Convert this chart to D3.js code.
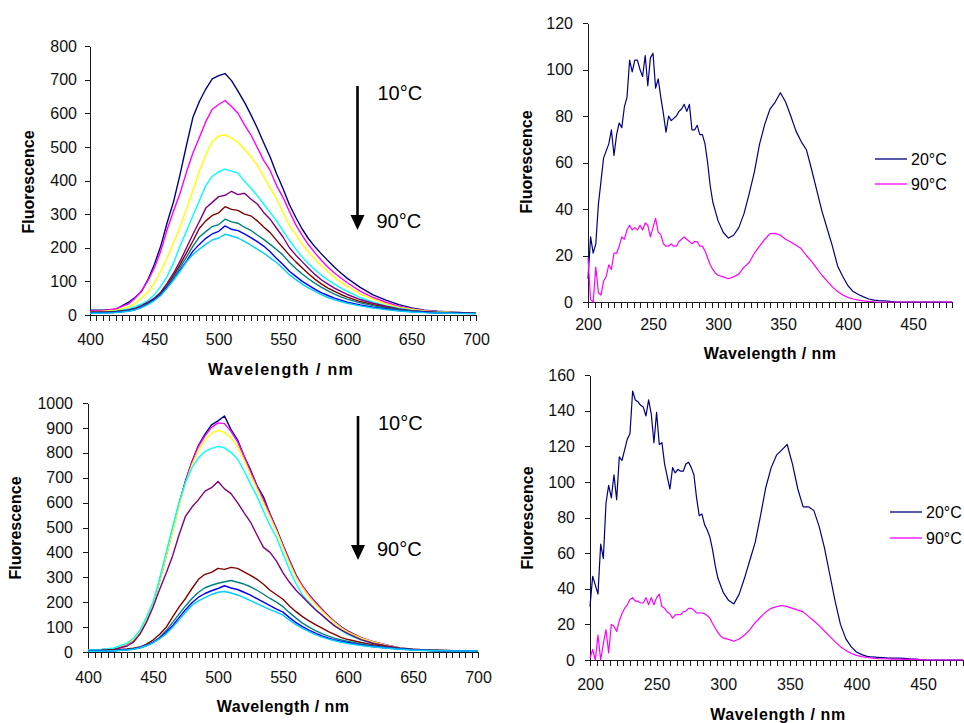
<!DOCTYPE html>
<html>
<head>
<meta charset="utf-8">
<script src="https://cdn.jsdelivr.net/npm/d3@7"></script>
<style>
  body { margin: 0; background: #fff; }
  svg { display: block; font-family: Arial, "Liberation Sans", sans-serif; }
</style>
</head>
<body>
<svg id="chart" width="964" height="723"></svg>
<script>
// ---- emission spectra (left panels), 10°C .. 90°C ----
const emWave = [400, 410, 420, 430, 435, 440, 445, 450, 455, 460, 465, 470, 475, 480, 485, 490, 495, 500, 505, 510,
  515, 520, 525, 530, 535, 540, 545, 550, 555, 560, 565, 570, 575, 580, 585, 590, 595, 600,
  610, 620, 630, 640, 650, 660, 670, 680, 690, 700]
const tempLabels = ['10°C', '20°C', '30°C', '40°C', '50°C', '60°C', '70°C', '80°C', '90°C']
const tempColors = ['#000080', '#FF00FF', '#FFFF00', '#00FFFF', '#800080', '#800000', '#008080', '#0000FF', '#00CCFF']

// top-left panel
const topEm10 = [14, 14, 17, 38, 52, 70, 105, 150, 205, 275, 338, 418, 505, 588, 635, 672, 702, 712, 718, 697,
  666, 633, 596, 556, 512, 470, 420, 376, 328, 290, 255, 226, 202, 181, 161, 142, 125, 109,
  82, 60, 44, 31, 21, 14, 11, 9, 7, 6]
const topEm20 = [12, 13, 18, 33, 50, 72, 102, 140, 190, 255, 310, 362, 425, 482, 528, 575, 612, 626, 638, 620,
  600, 566, 536, 498, 460, 430, 385, 350, 308, 268, 236, 208, 184, 162, 142, 125, 110, 96,
  71, 52, 38, 26, 19, 13, 10, 8, 7, 6]
const topEm30 = [10, 11, 14, 24, 34, 50, 68, 95, 130, 170, 215, 262, 315, 370, 428, 476, 516, 532, 536, 526,
  514, 493, 472, 445, 412, 378, 345, 305, 266, 240, 210, 186, 165, 146, 128, 112, 97, 86,
  63, 47, 33, 23, 17, 12, 10, 8, 7, 6]
const topEm40 = [8, 9, 11, 18, 25, 32, 42, 60, 85, 115, 155, 205, 250, 295, 340, 385, 412, 426, 434, 428,
  422, 398, 378, 355, 330, 305, 280, 250, 222, 196, 172, 152, 134, 118, 104, 92, 80, 70,
  52, 38, 28, 20, 14, 10, 8, 7, 6, 5]
const topEm50 = [8, 8, 10, 15, 20, 28, 38, 50, 68, 95, 125, 160, 200, 240, 278, 318, 335, 352, 356, 368,
  358, 362, 345, 330, 305, 285, 258, 232, 200, 178, 158, 138, 120, 104, 92, 80, 70, 61,
  46, 35, 26, 18, 13, 10, 8, 6, 6, 5]
const topEm60 = [8, 8, 10, 14, 18, 25, 35, 48, 65, 88, 118, 150, 185, 220, 258, 280, 296, 304, 322, 314,
  311, 300, 295, 280, 262, 245, 222, 200, 178, 158, 140, 122, 106, 92, 80, 70, 61, 53,
  40, 31, 23, 16, 12, 9, 7, 6, 5, 5]
const topEm70 = [7, 7, 9, 13, 17, 24, 33, 46, 62, 85, 112, 142, 172, 205, 232, 248, 263, 269, 285, 277,
  273, 261, 252, 238, 225, 210, 195, 178, 156, 138, 122, 107, 94, 82, 72, 62, 54, 47,
  36, 28, 21, 15, 11, 8, 7, 6, 5, 5]
const topEm80 = [6, 6, 8, 12, 16, 23, 32, 45, 60, 82, 106, 133, 160, 190, 210, 228, 241, 249, 265, 255,
  251, 241, 230, 218, 205, 188, 168, 150, 130, 115, 100, 88, 76, 66, 58, 50, 44, 38,
  30, 23, 18, 13, 10, 8, 6, 5, 5, 4]
const topEm90 = [5, 5, 7, 11, 15, 22, 31, 43, 58, 80, 104, 130, 158, 180, 196, 210, 223, 229, 240, 235,
  229, 219, 208, 196, 184, 170, 156, 138, 120, 105, 92, 80, 70, 60, 52, 45, 40, 35,
  27, 21, 16, 12, 9, 7, 6, 5, 4, 4]

// bottom-left panel
const botEm10 = [8, 9, 14, 32, 48, 80, 130, 188, 285, 385, 490, 595, 688, 765, 830, 875, 912, 928, 948, 893,
  852, 788, 732, 668, 622, 555, 495, 430, 368, 310, 265, 230, 200, 172, 145, 120, 100, 84,
  58, 40, 27, 16, 11, 8, 6, 5, 5, 5]
const botEm20 = [8, 9, 14, 33, 50, 82, 132, 190, 284, 385, 488, 592, 685, 762, 826, 868, 902, 920, 917, 886,
  845, 786, 725, 665, 610, 552, 490, 428, 364, 306, 265, 228, 198, 170, 143, 118, 98, 82,
  57, 40, 27, 16, 11, 8, 6, 5, 5, 5]
const botEm30 = [8, 9, 14, 33, 50, 82, 130, 190, 282, 382, 485, 588, 678, 752, 812, 852, 878, 890, 882, 860,
  825, 772, 712, 655, 598, 542, 485, 420, 356, 300, 258, 222, 192, 165, 140, 116, 96, 80,
  56, 39, 26, 16, 11, 8, 6, 5, 5, 5]
const botEm40 = [9, 10, 16, 36, 55, 88, 140, 200, 292, 398, 500, 600, 680, 740, 780, 805, 818, 826, 820, 802,
  775, 728, 675, 625, 565, 508, 460, 395, 330, 275, 228, 200, 172, 148, 125, 104, 86, 70,
  48, 34, 23, 15, 10, 7, 6, 5, 5, 5]
const botEm50 = [6, 7, 10, 24, 40, 72, 120, 180, 250, 315, 385, 470, 545, 582, 612, 646, 660, 685, 655, 636,
  600, 560, 522, 470, 420, 400, 365, 318, 280, 248, 222, 195, 170, 148, 125, 104, 88, 74,
  50, 34, 24, 15, 10, 7, 6, 5, 5, 5]
const botEm60 = [4, 5, 8, 12, 15, 20, 32, 48, 70, 98, 140, 180, 215, 255, 292, 312, 320, 336, 332, 340,
  336, 322, 308, 292, 272, 248, 230, 212, 185, 162, 142, 125, 110, 96, 82, 70, 58, 50,
  38, 28, 20, 14, 10, 7, 6, 5, 4, 4]
const botEm70 = [4, 4, 6, 10, 13, 18, 28, 40, 58, 85, 118, 152, 185, 215, 240, 258, 268, 276, 282, 287,
  280, 273, 262, 248, 232, 215, 200, 182, 158, 136, 116, 100, 86, 74, 64, 55, 48, 42,
  32, 24, 18, 13, 9, 7, 5, 5, 4, 4]
const botEm80 = [3, 4, 5, 9, 12, 17, 26, 38, 55, 78, 105, 138, 170, 198, 220, 235, 246, 255, 266, 257,
  251, 240, 228, 214, 200, 186, 172, 160, 138, 118, 102, 88, 76, 65, 56, 48, 42, 37,
  28, 21, 16, 12, 9, 7, 5, 5, 4, 4]
const botEm90 = [3, 3, 5, 8, 11, 16, 25, 37, 53, 72, 98, 128, 160, 188, 205, 218, 231, 240, 243, 237,
  229, 218, 206, 194, 182, 170, 160, 148, 128, 110, 95, 82, 70, 60, 52, 45, 39, 34,
  26, 20, 15, 11, 8, 6, 5, 4, 4, 4]

// ---- excitation spectra (right panels), 20°C and 90°C ----
const exWave = d3.range(200, 300, 2).concat(d3.range(300, 481, 4))
const exLabels = ['20°C', '90°C']
const exColors = ['#000080', '#FF00FF']

const topEx20 = [10, 28, 21, 25, 42, 52, 62, 65, 68, 74, 63, 72, 77, 75, 84, 88, 104, 99, 104, 104,
  100, 97, 106, 93, 105, 107, 92, 96, 88, 81, 73, 80, 78, 79, 80, 82, 83, 85, 82, 85,
  74, 74, 76, 72, 72, 68, 60, 50, 43, 39,
  35, 30, 27.5, 28.7, 32, 38, 46.6, 56, 68, 76.5, 83, 86, 90, 86, 80, 73.5, 69, 65.5, 57, 48,
  39, 31.5, 24, 15.5, 11, 7, 4.5, 3.2, 2.2, 1.3, 0.8, 0.6, 0.5, 0.3, 0.1, 0, 0, 0, 0, 0,
  0, 0, 0, 0, 0, 0]
const topEx90 = [19, 1, 0, 15, 4, 3, 9, 11, 16, 14, 21, 21, 24, 28, 27, 31, 33, 31, 32, 31,
  33, 31, 34, 33, 28, 32, 36, 30, 29, 25, 24, 24, 25, 24, 24, 26, 27, 28, 27, 26,
  25, 26, 26, 24, 24, 22, 19, 16, 14, 12.5,
  11.5, 10.8, 10, 10.8, 12, 15, 17, 21, 24, 27, 29.4, 29.5, 28.7, 27, 25.8, 24.4, 23, 20, 17.5, 14.5,
  11.5, 9, 6.5, 4.5, 3, 2, 1.3, 0.8, 0.5, 0.3, 0.1, 0, 0, 0, 0, 0, 0, 0, 0, 0,
  0, 0, 0, 0, 0, 0]
const botEx20 = [30, 47, 42, 37, 65, 57, 88, 98, 91, 104, 90, 114, 112, 118, 124, 127, 151, 146, 145, 143,
  142, 137, 146, 138, 122, 139, 121, 122, 110, 103, 96, 108, 105, 107, 106, 106, 110, 111, 108, 104,
  91, 81, 82, 76, 73, 69, 62, 53, 46, 42,
  38, 33.5, 31.5, 37, 46, 56, 66, 81, 97, 108, 115, 118, 121, 110, 96, 86, 86, 84, 75, 63,
  48, 33, 20, 12, 7.5, 4.5, 3, 2, 1.7, 1.5, 1.3, 1.1, 1.1, 1.1, 0.9, 0.7, 0.5, 0.2, 0, 0,
  0, 0, 0, 0, 0, 0]
const botEx90 = [1, 6, 0, 14, 0, 9, 17, 4, 20, 19, 16, 22, 26, 29, 31, 34, 35, 33, 33, 32,
  32, 35, 31, 35, 31, 35, 37, 30, 29, 27, 26, 23.5, 25.4, 25.5, 25.5, 27, 27.5, 29, 29, 28,
  26.4, 26.5, 26.4, 26, 25, 23.5, 20.5, 18, 15.5, 13.5,
  12.3, 11.6, 10.5, 11.8, 14, 17, 21, 24, 27, 29, 30, 30.6, 30, 29, 28, 27, 24.5, 22, 19.3, 16.3,
  13.3, 10.2, 7.5, 5.4, 3.8, 2.6, 1.9, 1.4, 1.0, 0.8, 0.7, 0.6, 0.5, 0.5, 0.4, 0.4, 0.3, 0.2, 0, 0,
  0, 0, 0, 0, 0, 0]

const svg = d3.select('#chart')
const FONT = 'Arial, "Liberation Sans", sans-serif'

function panel(cfg) {
  const x = d3.scaleLinear().domain(cfg.xDomain).range(cfg.xRange)
  const y = d3.scaleLinear().domain(cfg.yDomain).range(cfg.yRange)
  const g = svg.append('g')

  const xAxis = d3.axisBottom(x)
    .tickValues(d3.range(cfg.xDomain[0], cfg.xDomain[1] + 1, 5))
    .tickSize(6).tickSizeOuter(0).tickPadding(cfg.xPad - 1)
    .tickFormat(d => d % 50 === 0 ? d : '')
  const yAxis = d3.axisLeft(y)
    .tickValues(d3.range(cfg.yDomain[0], cfg.yDomain[1] + 1, cfg.yStep))
    .tickSize(5).tickSizeOuter(0).tickPadding(cfg.yPad)
    .tickFormat(d3.format('d'))

  g.append('g').attr('transform', `translate(0,${cfg.yRange[0]})`).call(xAxis)
  g.append('g').attr('transform', `translate(${cfg.xRange[0]},0)`).call(yAxis)
  g.selectAll('.domain, .tick line')
    .attr('stroke', '#1a1a1a').attr('stroke-width', 1).attr('shape-rendering', 'crispEdges')
  g.selectAll('.tick text').attr('fill', '#111').style('font-size', '16px').style('font-family', FONT)

  // spectra
  const line = d3.line().x(d => x(d[0])).y(d => y(d[1]))
  cfg.series.forEach((vals, i) => {
    g.append('path').datum(d3.zip(cfg.wave, vals)).attr('d', line)
      .attr('fill', 'none').attr('stroke', cfg.colors[i]).attr('stroke-width', cfg.lw)
      .attr('stroke-linejoin', 'round')
  })

  // axis titles
  g.append('text').attr('x', cfg.xTitle[0]).attr('y', cfg.xTitle[1])
    .attr('text-anchor', 'middle').style('font-size', '16px').style('font-weight', 'bold')
    .style('letter-spacing', cfg.titleSpacing + 'px').text('Wavelength / nm')
  g.append('text').attr('transform', `translate(${cfg.yTitle[0]},${cfg.yTitle[1]}) rotate(-90)`)
    .attr('text-anchor', 'middle').style('font-size', '16px').style('font-weight', 'bold')
    .text('Fluorescence')

  return g
}

function tempArrow(g, ax, y0, y1, t0, t1) {
  g.append('line').attr('x1', ax).attr('x2', ax).attr('y1', y0).attr('y2', y1 - 12)
    .attr('stroke', '#000').attr('stroke-width', 2.6)
  g.append('path').attr('d', `M${ax - 7},${y1 - 15} L${ax + 7},${y1 - 15} L${ax},${y1} Z`).attr('fill', '#000')
  g.append('text').attr('x', ax + 20).attr('y', t0).style('font-size', '20px').text(tempLabels[0])
  g.append('text').attr('x', ax + 19).attr('y', t1).style('font-size', '20px').text(tempLabels[8])
}

function legend(g, lx, ly, gap) {
  exLabels.forEach((lab, i) => {
    g.append('line').attr('x1', lx).attr('x2', lx + 32).attr('y1', ly + i * gap).attr('y2', ly + i * gap)
      .attr('stroke', exColors[i]).attr('stroke-width', 1.3)
    g.append('text').attr('x', lx + 36).attr('y', ly + i * gap + 5.5).style('font-size', '16px').text(lab)
  })
}

const tl = panel({
  xDomain: [400, 700], yDomain: [0, 800], yStep: 100,
  xRange: [90, 476], yRange: [315, 46], xPad: 14, yPad: 8,
  wave: emWave, series: [topEm10, topEm20, topEm30, topEm40, topEm50, topEm60, topEm70, topEm80, topEm90],
  colors: tempColors, lw: 1.4, xTitle: [281, 375], yTitle: [34, 182], titleSpacing: 1.3
})
tempArrow(tl, 357.5, 86, 230, 100, 228)

const bl = panel({
  xDomain: [400, 700], yDomain: [0, 1000], yStep: 100,
  xRange: [88, 478], yRange: [652, 403], xPad: 15, yPad: 10,
  wave: emWave, series: [botEm10, botEm20, botEm30, botEm40, botEm50, botEm60, botEm70, botEm80, botEm90],
  colors: tempColors, lw: 1.4, xTitle: [283, 712], yTitle: [21, 528], titleSpacing: 0.4
})
tempArrow(bl, 358, 416, 560, 430, 556)

const tr = panel({
  xDomain: [200, 480], yDomain: [0, 120], yStep: 20,
  xRange: [588, 952], yRange: [302, 23], xPad: 12, yPad: 10,
  wave: exWave, series: [topEx20, topEx90],
  colors: exColors, lw: 1.2, xTitle: [770, 359], yTitle: [532, 162], titleSpacing: 0.4
})
legend(tr, 875, 159, 25)

const br = panel({
  xDomain: [200, 480], yDomain: [0, 160], yStep: 20,
  xRange: [590, 963], yRange: [660, 375], xPad: 14, yPad: 10,
  wave: exWave, series: [botEx20, botEx90],
  colors: exColors, lw: 1.2, xTitle: [778, 720], yTitle: [533, 518], titleSpacing: 0.6
})
legend(br, 890, 512, 26)
</script>
</body>
</html>
